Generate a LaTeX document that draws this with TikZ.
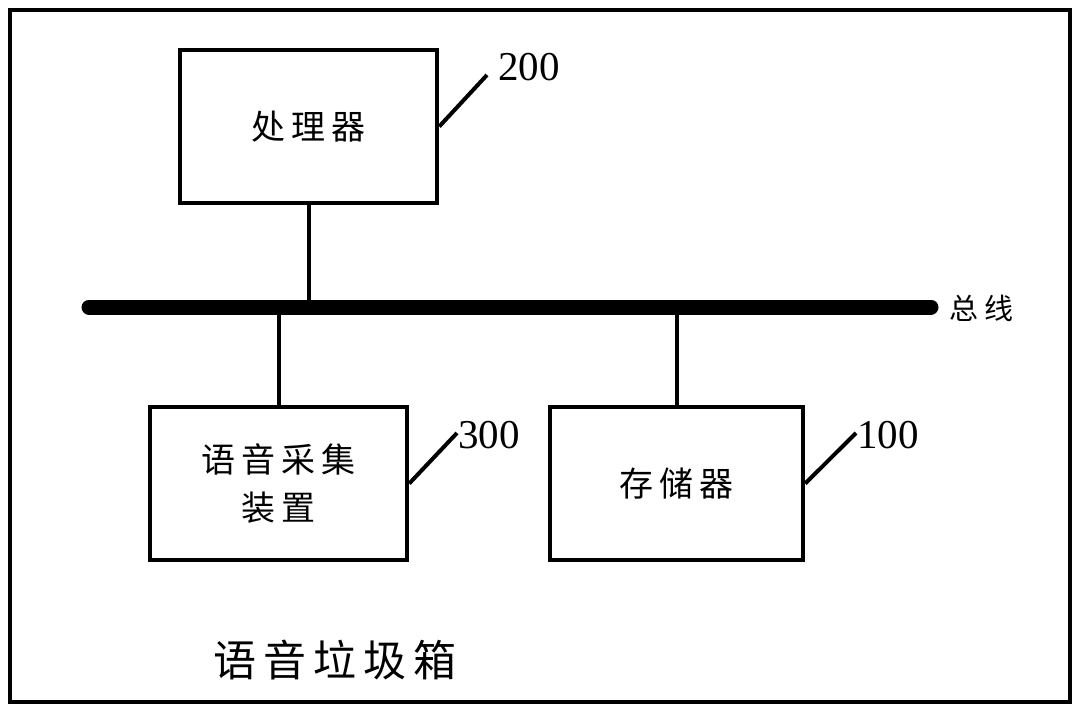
\documentclass[tikz,border=0pt]{standalone}
\usepackage{fontspec}
\setmainfont{Liberation Serif}
\newfontfamily\cjk{Noto Sans CJK SC}
\newcommand{\ks}{\hspace{6pt}}
\tikzset{
  box/.style={draw, line width=4.5pt, minimum width=257pt, minimum height=153pt, inner sep=0pt, align=center, font=\cjk\fontsize{34}{48}\selectfont},
  conn/.style={line width=4pt},
  leader/.style={line width=4pt},
  num/.style={font=\fontsize{41}{41}\selectfont, inner sep=0pt},
}
\begin{document}
\begin{tikzpicture}[x=1pt,y=-1pt]
\useasboundingbox (0,0) rectangle (1080,712);
\draw[line width=4.5pt] (10,10) rectangle (1070,702);
\node[box] (proc) at (308.5,126.5) {处\ks 理\ks 器};
\node[box] (voice) at (278.5,483.5) {语\ks 音\ks 采\ks 集\\装\ks 置};
\node[box, minimum width=253pt] (mem) at (676.5,483.5) {存\ks 储\ks 器};
\coordinate (busL) at (89,307);
\coordinate (busR) at (931,307);
\draw[line width=15pt, line cap=round] (busL) -- (busR);
\node[font=\cjk\fontsize{29}{29}\selectfont, anchor=west, inner sep=0pt] (buslabel) at (949,308) {总\hspace{6pt}线};
\draw[conn] (proc.south) -- (proc.south |- busL);
\draw[conn] (voice.north) -- (voice.north |- busL);
\draw[conn] (mem.north) -- (mem.north |- busL);
\coordinate (l200) at (487,75);
\coordinate (l300) at (457,433);
\coordinate (l100) at (856,433);
\draw[leader] (proc.east) -- (l200);
\draw[leader] (voice.east) -- (l300);
\draw[leader] (mem.east) -- (l100);
\node[num] (n200) at (529,67) {200};
\node[num] (n300) at (489,435) {300};
\node[num] (n100) at (888,435) {100};
\node[font=\cjk\fontsize{43}{43}\selectfont, inner sep=0pt] (title) at (335,660) {语\hspace{7pt}音\hspace{7pt}垃\hspace{7pt}圾\hspace{7pt}箱};
\end{tikzpicture}
\end{document}
